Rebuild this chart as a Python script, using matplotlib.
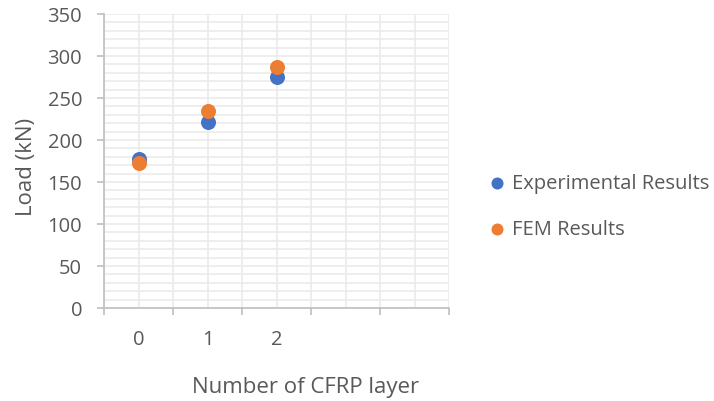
import matplotlib
matplotlib.use('Agg')
import matplotlib.pyplot as plt
from matplotlib.ticker import MultipleLocator, FixedLocator

# data
layers = [0, 1, 2]
exp_load = [177, 221, 275]
fem_load = [173, 235, 287]

plt.rcParams['font.family'] = ['Open Sans', 'DejaVu Sans']
txt = '#595959'
grid_c = '#ebebeb'
axis_c = '#bfbfbf'
fs = 14.5

fig = plt.figure(figsize=(7.14, 4.02), dpi=100)
ax = fig.add_axes([104 / 714, 1 - 309 / 402, 345 / 714, 294 / 402])

ax.scatter(layers, exp_load, s=117, color='#4472c4', label='Experimental Results', zorder=3, linewidths=0)
ax.scatter(layers, fem_load, s=117, color='#ed7d31', label='FEM Results', zorder=4, linewidths=0)

ax.set_xlim(-0.5, 4.5)
ax.set_ylim(0, 350)

# y axis: major every 50, minor gridlines every 10
ax.yaxis.set_major_locator(MultipleLocator(50))
ax.yaxis.set_minor_locator(MultipleLocator(10))
# x axis: category boundaries as ticks, gridlines every half step
ax.xaxis.set_major_locator(FixedLocator([-0.5, 0.5, 1.5, 2.5, 3.5, 4.5]))
ax.xaxis.set_minor_locator(FixedLocator([-0.5 + 0.5 * k for k in range(11)]))
ax.set_xticklabels([])
for x in layers:
    ax.text(x, -0.105, str(x), transform=ax.get_xaxis_transform(), ha='center', va='center',
            fontsize=fs, color=txt)

ax.grid(which='both', color=grid_c, linewidth=1.2, zorder=0)
ax.set_axisbelow(True)

for s in ['top', 'right']:
    ax.spines[s].set_visible(False)
for s in ['left', 'bottom']:
    ax.spines[s].set_color(axis_c)
    ax.spines[s].set_linewidth(1.2)

ax.tick_params(which='major', axis='both', length=5, width=1.2, color=axis_c, labelcolor=txt, labelsize=fs)
ax.tick_params(which='minor', length=0)
ax.tick_params(axis='y', pad=10.8)

ax.set_ylabel('Load (kN)', fontsize=16, color=txt, va='center')
ax.yaxis.set_label_coords(-0.226, 0.483)
ax.set_xlabel('Number of CFRP layer', fontsize=16, color=txt, va='center')
ax.xaxis.set_label_coords(0.5855, -0.268)

ax.legend(loc='center left', bbox_to_anchor=(487 / 714, 1 - 207 / 402), bbox_transform=fig.transFigure,
          frameon=False, fontsize=fs, labelcolor=txt, markerscale=0.8, borderpad=0, borderaxespad=0,
          handlelength=1.0, handletextpad=0.25, labelspacing=1.3)

fig.savefig('out.png', dpi=100)
